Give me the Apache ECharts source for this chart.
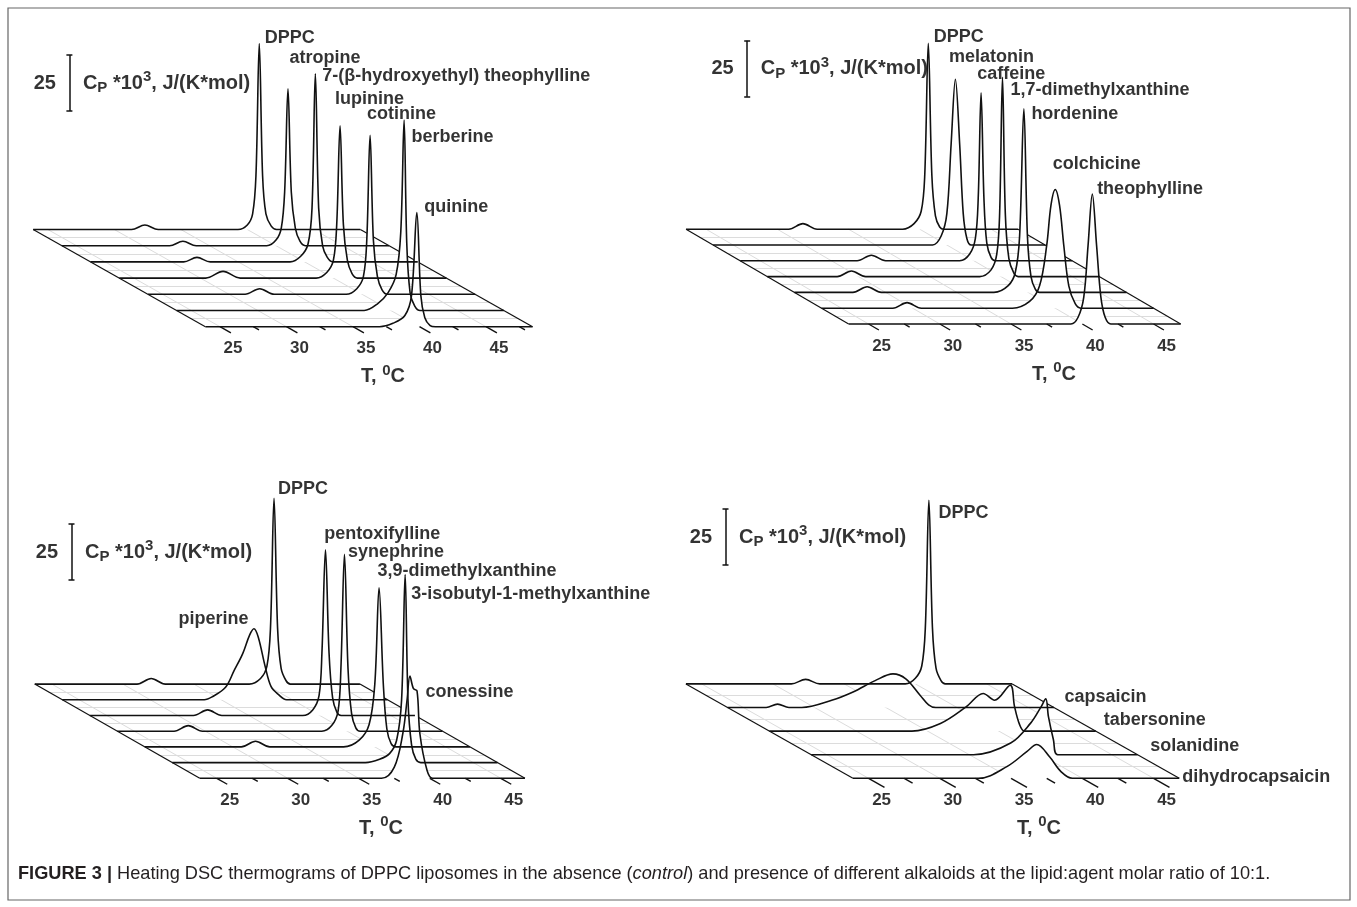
<!DOCTYPE html>
<html>
<head>
<meta charset="utf-8">
<script src="https://cdn.jsdelivr.net/npm/echarts/dist/echarts.min.js"></script>
<style>
  html, body { margin: 0; padding: 0; background: #fff; }
  #chart { width: 1357px; height: 907px; }
</style>
</head>
<body>
<div id="chart"></div>
<script>
// ---------- values (T in °C, Cp in kJ/(K*mol)) ----------
// every trace is listed back (DPPC) to front; points are [T, Cp] above its own baseline

const namesA = ['DPPC', 'atropine', '7-(β-hydroxyethyl) theophylline', 'lupinine', 'cotinine', 'berberine', 'quinine'];
const rangeA = [23.9, 48.5];
const curvesA = [
  [[31.3,0],[32.3,2],[33.3,0],[39.3,0],[40.0,2],[40.4,7],[40.65,24],[40.9,83],[41.15,24],[41.4,7],[41.8,1.5],[42.2,0]],
  [[32.0,0],[33.0,2],[34.0,0],[39.3,0],[40.0,2.5],[40.4,8],[40.65,24],[40.9,70],[41.15,24],[41.45,8],[41.8,2],[42.2,0]],
  [[30.9,0],[31.9,2],[32.9,0],[38.9,0],[39.7,2.5],[40.25,8],[40.55,24],[40.8,84],[41.05,24],[41.35,7],[41.7,2],[42.1,0]],
  [[30.4,0],[31.7,3],[33.0,0],[38.7,0],[39.5,2.5],[40.0,8],[40.25,24],[40.5,68],[40.75,24],[41.05,8],[41.4,2],[41.8,0]],
  [[31.2,0],[32.3,2.5],[33.4,0],[38.8,0],[39.6,2.5],[40.1,8],[40.35,24],[40.6,71],[40.85,24],[41.15,8],[41.5,2],[41.9,0]],
  [[38.0,0],[39.0,3],[39.8,8],[40.4,16],[40.75,35],[41.0,85],[41.2,30],[41.45,8],[41.8,2],[42.2,0]],
  [[37.0,0],[38.0,1.5],[38.9,5],[39.4,14],[39.8,51],[40.1,14],[40.4,4],[40.8,0.5],[41.2,0]]
];

const namesB = ['DPPC', 'melatonin', 'caffeine', '1,7-dimethylxanthine', 'hordenine', 'colchicine', 'theophylline'];
const rangeB = [23.6, 46.9];
const curvesB = [
  [[30.8,0],[31.8,2.5],[32.8,0],[38.8,0],[39.6,2.5],[40.1,8],[40.35,24],[40.6,83],[40.85,24],[41.1,6],[41.4,1],[41.7,0]],
  [[39.0,0],[39.6,4],[40.0,14],[40.3,45],[40.6,74],[40.9,45],[41.15,14],[41.4,3],[41.7,0]],
  [[31.8,0],[32.8,2.5],[33.8,0],[39.0,0],[39.7,3],[40.1,10],[40.3,28],[40.5,75],[40.7,28],[40.9,8],[41.2,1.5],[41.5,0]],
  [[28.5,0],[29.5,2.5],[30.5,0],[38.5,0],[39.3,3],[39.7,10],[39.9,28],[40.1,89],[40.3,28],[40.55,8],[40.9,1.5],[41.2,0]],
  [[27.7,0],[28.7,2.5],[29.7,0],[37.6,0],[38.6,3],[39.1,9],[39.4,25],[39.7,82],[39.95,25],[40.2,7],[40.5,1.5],[40.8,0]],
  [[28.6,0],[29.6,2.5],[30.6,0],[37.0,0],[38.2,3],[38.9,10],[39.4,28],[39.7,46],[40.0,53],[40.3,46],[40.6,28],[40.95,10],[41.4,2],[41.8,0]],
  [[39.2,0],[39.7,3],[40.1,12],[40.4,35],[40.7,58],[41.0,35],[41.3,12],[41.6,3],[42.0,0]]
];

const namesC = ['DPPC', 'piperine', 'pentoxifylline', 'synephrine', '3,9-dimethylxanthine', '3-isobutyl-1-methylxanthine', 'conessine'];
const rangeC = [23.8, 46.7];
const curvesC = [
  [[31.0,0],[32.0,2.5],[33.0,0],[38.9,0],[39.7,2.5],[40.15,8],[40.4,25],[40.65,83],[40.9,25],[41.15,7],[41.5,1.5],[41.8,0]],
  [[33.8,0],[34.4,1.5],[35.3,5.6],[35.9,13],[36.5,20.5],[37.0,29],[37.3,31.7],[37.6,28],[38.1,14.6],[38.5,6],[39.0,2.5],[39.6,0]],
  [[31.1,0],[32.1,2.5],[33.1,0],[38.8,0],[39.5,2.5],[39.95,9],[40.15,28],[40.4,74],[40.65,28],[40.9,8],[41.2,1.5],[41.5,0]],
  [[27.8,0],[28.8,2.5],[29.8,0],[38.2,0],[38.9,2.5],[39.35,9],[39.55,28],[39.8,79],[40.05,28],[40.3,8],[40.6,1.5],[40.9,0]],
  [[30.6,0],[31.6,2.5],[32.6,0],[37.8,0],[38.9,3],[39.6,10],[40.0,28],[40.3,71],[40.6,28],[40.85,8],[41.15,1.5],[41.5,0]],
  [[37.4,0],[38.4,1.5],[39.1,4],[39.6,10],[39.95,28],[40.2,84],[40.4,28],[40.65,8],[40.95,1.5],[41.3,0]],
  [[36.6,0],[37.5,5],[38.1,20],[38.4,35],[38.6,45.7],[38.85,40],[39.1,39],[39.3,20],[39.8,3.7],[40.2,0]]
];

const namesD = ['DPPC', 'capsaicin', 'tabersonine', 'solanidine', 'dihydrocapsaicin'];
const rangeD = [23.9, 46.8];
const curvesD = [
  [[31.3,0],[32.3,2],[33.3,0],[39.3,0],[40.0,2.5],[40.45,8],[40.7,25],[40.95,82],[41.2,25],[41.45,7],[41.8,1.5],[42.1,0]],
  [[26.6,0],[27.4,1.5],[28.2,0],[29.1,0],[31.2,3.2],[32.7,6.9],[34.25,12],[35.5,15],[36.4,12.8],[37.4,5.5],[38.0,1.2],[38.5,0]],
  [[33.9,0],[35.9,3.4],[37.7,10.8],[38.9,16.8],[39.7,13.8],[40.8,20.5],[41.1,11],[41.45,3],[41.8,0]],
  [[35.3,0],[37.9,5.2],[39.3,14.1],[40.0,21],[40.36,24.9],[40.55,17],[40.9,6.7],[41.2,0]],
  [[32.7,0],[34.7,5.2],[36.1,11.9],[36.8,15.1],[37.7,9.6],[38.5,3],[39.3,0]]
];

const tickValues = [25, 27.5, 30, 32.5, 35, 37.5, 40, 42.5, 45, 47.5];
const majorTicks = [25, 30, 35, 40, 45];
const scaleBar = 25;

// ---------- layout (pixels) ----------
// x25/y0: pixel of T=25, Cp=0 on the front baseline; kx, ky: px per unit;
// stepX/stepY: px shift between neighbouring traces (depth)
const FONT = '"Liberation Sans", Arial, sans-serif';
const layout = [
  { x25: 220, y0: 326.7, kx: 13.3, ky: 2.24, stepX: 28.7, stepY: 16.2, box: [10, 10, 660, 400],
    bar: [69.4, 111], title: 383,
    labelOff: [[5,-6],[1,-31],[6.5,2],[-5.6,-27],[-3.5,-21],[7,17],[7,-5]] },
  { x25: 868.6, y0: 324, kx: 14.25, ky: 2.24, stepX: 27.1, stepY: 15.8, box: [680, 10, 660, 400],
    bar: [747.2, 96.7], title: 1054,
    labelOff: [[5,-6],[-7,-22],[-4.4,-19],[7.4,13],[7,5],[-3,-25],[4.3,-5]] },
  { x25: 216.8, y0: 778.3, kx: 14.2, ky: 2.24, stepX: 27.5, stepY: 15.7, box: [10, 455, 660, 400],
    bar: [71.5, 580], title: 381,
    labelOff: [[3.4,-9],[-76,-10],[-1.7,-16],[3,-2],[-2,-17],[5.5,20],[15,16]] },
  { x25: 868.6, y0: 778.3, kx: 14.25, ky: 2.24, stepX: 41.75, stepY: 23.6, box: [680, 455, 660, 400],
    bar: [725.5, 565], title: 1039,
    labelOff: [[9,13],[171,23],[93,35],[104,47],[145,33]] }
];

const panels = [
  { names: namesA, range: rangeA, curves: curvesA },
  { names: namesB, range: rangeB, curves: curvesB },
  { names: namesC, range: rangeC, curves: curvesC },
  { names: namesD, range: rangeD, curves: curvesD }
];

const chart = echarts.init(document.getElementById('chart'));
const grids = [], xAxes = [], yAxes = [], series = [];
const black = '#111';
const hidden = { color: 'rgba(0,0,0,0)' };

panels.forEach(function (pn, p) {
  const L = layout[p];
  const bx = L.box[0], by = L.box[1], bw = L.box[2], bh = L.box[3];
  grids.push({ left: bx, top: by, width: bw, height: bh });
  xAxes.push({ type: 'value', gridIndex: p, show: false,
    min: 25 - (L.x25 - bx) / L.kx, max: 25 + (bx + bw - L.x25) / L.kx });
  yAxes.push({ type: 'value', gridIndex: p, show: false,
    min: -(by + bh - L.y0) / L.ky, max: (L.y0 - by) / L.ky });

  const sx = L.stepX / L.kx, sy = L.stepY / L.ky;
  const n = pn.names.length, D = n - 1;
  const t0 = pn.range[0], t1 = pn.range[1];
  const ax = { xAxisIndex: p, yAxisIndex: p, silent: true, animation: false };

  // faint grid on the base plane
  const faint = [];
  majorTicks.forEach(function (t) {
    faint.push({ coords: [[t - D * sx, D * sy], [t, 0]] });
  });
  for (let d = 0; d < D; d++) {
    const m = d + 0.5;
    faint.push({ coords: [[t0 - m * sx, m * sy], [t1 - m * sx, m * sy]] });
  }
  series.push(Object.assign({ type: 'lines', coordinateSystem: 'cartesian2d', data: faint, z: 1,
    lineStyle: { color: '#dcdcdc', width: 1, opacity: 1 } }, ax));

  // plane edges
  series.push(Object.assign({ type: 'lines', coordinateSystem: 'cartesian2d', z: 1,
    data: [
      { coords: [[t0 - D * sx, D * sy], [t0, 0]] },
      { coords: [[t1 - D * sx, D * sy], [t1, 0]] }
    ],
    lineStyle: { color: black, width: 1.2, opacity: 1 } }, ax));

  // traces, back to front; white fill hides what lies behind
  const peaks = [];
  pn.curves.forEach(function (c, i) {
    const d = D - i;
    const pts = [[t0, 0]].concat(c, [[t1, 0]]).map(function (q) {
      return [q[0] - d * sx, q[1] + d * sy];
    });
    let top = c[0];
    c.forEach(function (q) { if (q[1] > top[1]) top = q; });
    peaks.push([top[0] - d * sx, top[1] + d * sy]);
    series.push(Object.assign({ type: 'line', data: pts, smooth: 0.35, symbol: 'none', z: 2,
      lineStyle: { width: 0, opacity: 0 },
      areaStyle: { color: '#fff', opacity: 1, origin: d * sy } }, ax));
    series.push(Object.assign({ type: 'line', data: pts, smooth: 0.35, symbol: 'none', z: 2,
      lineStyle: { color: black, width: 1.6 } }, ax));
  });

  // trace names
  series.push(Object.assign({ type: 'scatter', symbolSize: 1, itemStyle: hidden, z: 10,
    data: peaks.map(function (pt, i) { return { value: pt, label: { offset: L.labelOff[i] } }; }),
    label: { show: true, position: 'right', distance: 0, color: '#000', fontSize: 18, fontWeight: 'bold',
      fontFamily: FONT, formatter: function (prm) { return pn.names[prm.dataIndex]; } } }, ax));

  // slanted ticks on the front axis
  const ticks = tickValues.filter(function (t) { return t >= t0 && t <= t1; });
  series.push(Object.assign({ type: 'lines', coordinateSystem: 'cartesian2d', z: 3,
    data: ticks.map(function (t) {
      const f = majorTicks.indexOf(t) >= 0 ? 0.38 : 0.2;
      return { coords: [[t, 0], [t + f * sx, -f * sy]] };
    }),
    lineStyle: { color: black, width: 1.4, opacity: 1 } }, ax));
  series.push(Object.assign({ type: 'scatter', symbolSize: 1, itemStyle: hidden, z: 10,
    data: majorTicks.filter(function (t) { return t >= t0 && t <= t1; }).map(function (t) { return [t, 0]; }),
    label: { show: true, position: 'inside', offset: [13, 22], color: '#000', fontSize: 17, fontWeight: 'bold',
      fontFamily: FONT, formatter: function (prm) { return String(prm.value[0]); } } }, ax));

  // axis title
  series.push(Object.assign({ type: 'scatter', symbolSize: 1, itemStyle: hidden, z: 10,
    data: [[25 + (L.title - L.x25) / L.kx, 0]],
    label: { show: true, position: 'inside', offset: [0, 50], formatter: '{a|T, }{u|0}{a|C}',
      rich: {
        a: { fontSize: 20, fontWeight: 'bold', fontFamily: FONT, color: '#000' },
        u: { fontSize: 15, fontWeight: 'bold', fontFamily: FONT, color: '#000', padding: [0, 0, 12, 0] }
      } } }, ax));

  // Cp scale bar (25 units)
  const bT = 25 + (L.bar[0] - L.x25) / L.kx;
  const c1 = (L.y0 - L.bar[1]) / L.ky, c2 = c1 + scaleBar;
  const h = 3 / L.kx;
  series.push(Object.assign({ type: 'lines', coordinateSystem: 'cartesian2d', z: 3,
    data: [
      { coords: [[bT, c1], [bT, c2]] },
      { coords: [[bT - h, c1], [bT + h, c1]] },
      { coords: [[bT - h, c2], [bT + h, c2]] }
    ],
    lineStyle: { color: black, width: 1.5, opacity: 1 } }, ax));
  series.push(Object.assign({ type: 'scatter', symbolSize: 1, itemStyle: hidden, z: 10,
    data: [
      { value: [bT, (c1 + c2) / 2], label: { position: 'left', formatter: String(scaleBar) } },
      { value: [bT, (c1 + c2) / 2], label: { position: 'right',
          formatter: '{a|C}{s|P}{a| *10}{u|3}{a|, J/(K*mol)}' } }
    ],
    label: { show: true, distance: 13, color: '#000', fontSize: 20, fontWeight: 'bold', fontFamily: FONT,
      rich: {
        a: { fontSize: 20, fontWeight: 'bold', fontFamily: FONT, color: '#000' },
        s: { fontSize: 15, fontWeight: 'bold', fontFamily: FONT, color: '#000', padding: [10, 0, 0, 0] },
        u: { fontSize: 15, fontWeight: 'bold', fontFamily: FONT, color: '#000', padding: [0, 0, 12, 0] }
      } } }, ax));
});

chart.setOption({
  animation: false,
  backgroundColor: '#fff',
  grid: grids,
  xAxis: xAxes,
  yAxis: yAxes,
  series: series,
  graphic: [
    { type: 'rect', shape: { x: 8, y: 8, width: 1342, height: 892 }, silent: true,
      style: { fill: 'none', stroke: '#666', lineWidth: 1.2 } },
    { type: 'text', left: 18, top: 865, silent: true,
      style: {
        text: '{b|FIGURE 3 |} Heating DSC thermograms of DPPC liposomes in the absence ({i|control}) and presence of different alkaloids at the lipid:agent molar ratio of 10:1.',
        fontSize: 18.2, fontFamily: FONT, fill: '#231f20',
        rich: {
          b: { fontSize: 18.2, fontWeight: 'bold', fontFamily: FONT, fill: '#231f20' },
          i: { fontSize: 18.2, fontStyle: 'italic', fontFamily: FONT, fill: '#231f20' }
        }
      } }
  ]
});
</script>
</body>
</html>
